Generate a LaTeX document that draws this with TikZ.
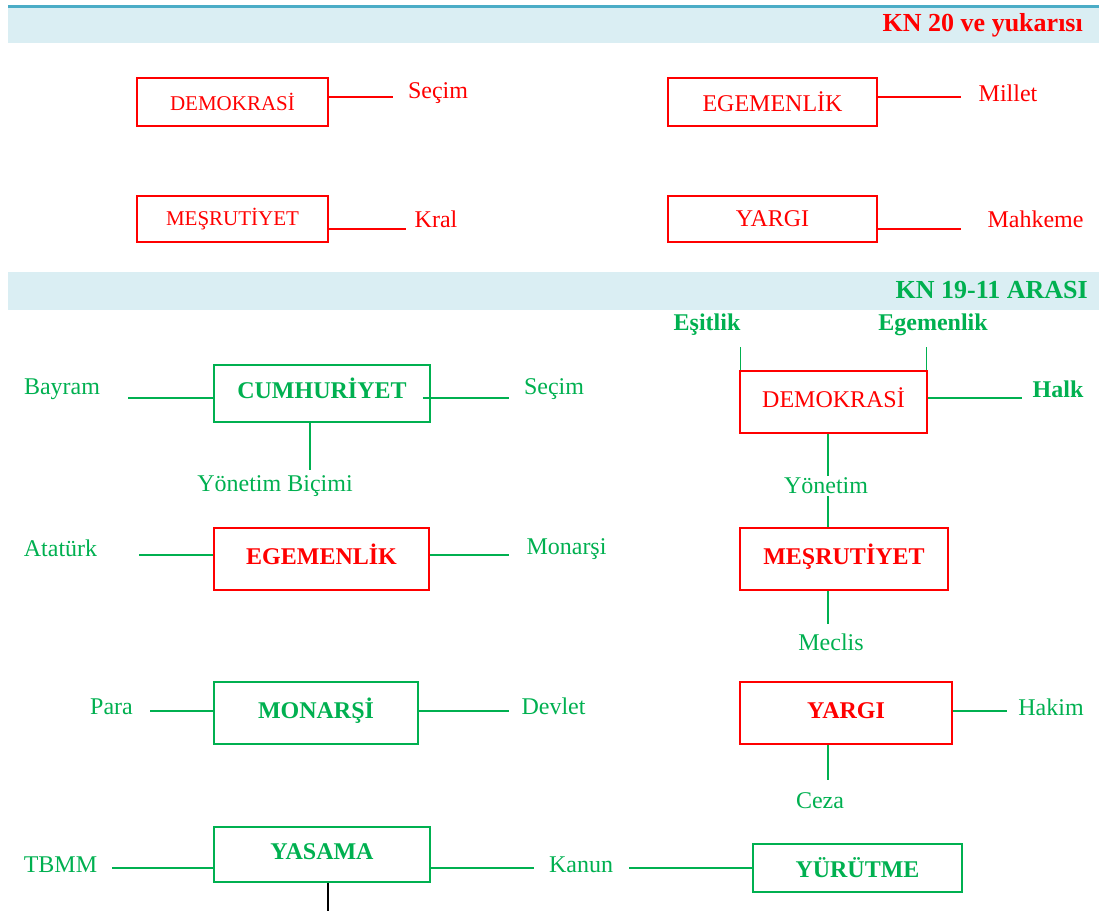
\documentclass[tikz,border=0pt]{standalone}
\usepackage{fontspec}
\setmainfont{Liberation Serif}
\usetikzlibrary{%
    calc,
    positioning
}
\definecolor{kred}{HTML}{FF0000}
\definecolor{kgreen}{HTML}{00B050}
\definecolor{bandblue}{HTML}{DAEEF3}
\definecolor{bandline}{HTML}{4BACC6}
\tikzset{
    box/.style={draw, line width=1.5pt, inner sep=0pt},
    redbox/.style={box, draw=kred, text=kred},
    greenbox/.style={box, draw=kgreen, text=kgreen},
    lift/.style={text height=16pt, text depth=6pt},
    word/.style={inner sep=0pt, font=\fontsize{24}{28}\selectfont},
    smallword/.style={inner sep=0pt, font=\fontsize{21}{25}\selectfont},
    boldword/.style={inner sep=0pt, font=\bfseries\fontsize{24}{28}\selectfont},
    headword/.style={inner sep=0pt, font=\bfseries\fontsize{26}{30}\selectfont},
    redlink/.style={line width=1.3pt, draw=kred},
    link/.style={line width=1.3pt, draw=kgreen}
}

\begin{document}
\begin{tikzpicture}[x=1pt, y=-1pt]
    \useasboundingbox (0,0) rectangle (1099,911);

    % bands
    \fill[bandblue] (8,7) rectangle (1099,43);
    \fill[bandline] (8,5) rectangle (1099,7.5);
    \fill[bandblue] (8,272) rectangle (1099,310);
    \node[headword, text=kred, anchor=east] (head1) at (1083,25) {KN 20 ve yukarısı};
    \node[headword, text=kgreen, anchor=east] (head2) at (1088,290) {KN 19-11 ARASI};

    % KN 20 ve yukarisi
    \node[redbox, smallword, minimum width=191pt, minimum height=48pt] (demA) at (232.5,102) {DEMOKRASİ};
    \node[redbox, word, minimum width=209pt, minimum height=48pt] (egeA) at (772.5,102) {EGEMENLİK};
    \node[redbox, smallword, minimum width=191pt, minimum height=46pt] (mesA) at (232.5,219) {MEŞRUTİYET};
    \node[redbox, word, minimum width=209pt, minimum height=46pt] (yarA) at (772.5,219) {YARGI};

    \node[word, text=kred] (secimA) at (438,93) {Seçim};
    \node[word, text=kred] (millet) at (1008,93) {Millet};
    \node[word, text=kred] (kral) at (436,219) {Kral};
    \node[word, text=kred] (mahkeme) at (1035.5,219) {Mahkeme};

    \draw[redlink] ([yshift=5pt]demA.east) -- ([yshift=5pt,xshift=-15pt]demA.east -| secimA.west);
    \draw[redlink] ([yshift=5pt]egeA.east) -- ([yshift=5pt,xshift=-17pt]egeA.east -| millet.west);
    \draw[redlink] ([yshift=-10pt]mesA.east) -- ([yshift=-10pt,xshift=-8pt]mesA.east -| kral.west);
    \draw[redlink] ([yshift=-10pt]yarA.east) -- ([yshift=-10pt,xshift=-26pt]yarA.east -| mahkeme.west);

    % KN 19-11 arasi, left column
    \node[greenbox, boldword, lift, minimum width=216pt, minimum height=57pt] (cum) at (322,393.5) {CUMHURİYET};
    \node[redbox, boldword, lift, minimum width=215pt, minimum height=62pt] (egeB) at (321.5,559) {EGEMENLİK};
    \node[greenbox, boldword, lift, minimum width=204pt, minimum height=62pt] (mon) at (316,713) {MONARŞİ};
    \node[greenbox, boldword, lift, minimum width=216pt, minimum height=55pt] (yas) at (322,854.5) {YASAMA};
    \node[greenbox, boldword, minimum width=209pt, minimum height=48pt] (yur) at (857.5,868) {YÜRÜTME};

    \node[word, text=kgreen] (bayram) at (62,389) {Bayram};
    \node[word, text=kgreen] (secimB) at (554,389) {Seçim};
    \node[word, text=kgreen] (bicim) at (275,486) {Yönetim Biçimi};
    \node[word, text=kgreen] (ataturk) at (60.5,548) {Atatürk};
    \node[word, text=kgreen] (monarsi) at (566.5,549) {Monarşi};
    \node[word, text=kgreen] (para) at (111.5,707) {Para};
    \node[word, text=kgreen] (devlet) at (553.5,706) {Devlet};
    \node[word, text=kgreen] (tbmm) at (60.5,865) {TBMM};
    \node[word, text=kgreen] (kanun) at (581,865) {Kanun};
    \coordinate (yasEnd) at (328,911);

    \draw[link] ([yshift=-4.5pt]cum.west) -- ([yshift=-4.5pt,xshift=28pt]cum.west -| bayram.east);
    \draw[link] ([yshift=-4.5pt,xshift=-8pt]cum.east) -- ([yshift=-4.5pt,xshift=-15pt]cum.east -| secimB.west);
    \draw[link] ([xshift=-12pt]cum.south) -- ([xshift=-12pt,yshift=5pt]cum.south |- bicim.north);
    \draw[link] ([yshift=4pt]egeB.west) -- ([yshift=4pt,xshift=42pt]egeB.west -| ataturk.east);
    \draw[link] ([yshift=4pt]egeB.east) -- ([yshift=4pt,xshift=-17pt]egeB.east -| monarsi.west);
    \draw[link] ([yshift=2pt]mon.west) -- ([yshift=2pt,xshift=17pt]mon.west -| para.east);
    \draw[link] ([yshift=2pt]mon.east) -- ([yshift=2pt,xshift=-12pt]mon.east -| devlet.west);
    \draw[link] ([yshift=-13.5pt]yas.west) -- ([yshift=-13.5pt,xshift=15pt]yas.west -| tbmm.east);
    \draw[link] ([yshift=-13.5pt]yas.east) -- ([yshift=-13.5pt,xshift=-15pt]yas.east -| kanun.west);
    \draw[link] (yur.west) -- ([xshift=16pt]yur.west -| kanun.east);
    \draw[line width=1.3pt] ([xshift=6pt]yas.south) -- (yasEnd);

    % KN 19-11 arasi, right column
    \node[redbox, word, lift, minimum width=187pt, minimum height=62pt] (demB) at (833.5,402) {DEMOKRASİ};
    \node[redbox, boldword, lift, minimum width=208pt, minimum height=62pt] (mesB) at (844,559) {MEŞRUTİYET};
    \node[redbox, boldword, lift, minimum width=212pt, minimum height=62pt] (yarB) at (846,713) {YARGI};

    \node[boldword, text=kgreen] (esitlik) at (707,325) {Eşitlik};
    \node[boldword, text=kgreen] (egemenlik) at (933,325) {Egemenlik};
    \node[boldword, text=kgreen] (halk) at (1058,389) {Halk};
    \node[word, text=kgreen] (yonetim) at (826,486) {Yönetim};
    \node[word, text=kgreen] (meclis) at (831,642) {Meclis};
    \node[word, text=kgreen] (hakim) at (1051,707) {Hakim};
    \node[word, text=kgreen] (ceza) at (820,801) {Ceza};

    \draw[link, line width=1.8pt] ([xshift=1.25pt]demB.north west) -- ([xshift=1.25pt,yshift=-11pt]demB.north west |- esitlik.south);
    \draw[link, line width=1.8pt] ([xshift=-1.25pt]demB.north east) -- ([xshift=-1.25pt,yshift=-11pt]demB.north east |- egemenlik.south);
    \draw[link] ([yshift=4pt]demB.east) -- ([yshift=4pt,xshift=-10pt]demB.east -| halk.west);
    \draw[link] ([xshift=-5.5pt]demB.south) -- ([xshift=-5.5pt,yshift=2pt]demB.south |- yonetim.north);
    \draw[link] ([xshift=-16pt]mesB.north) -- ([xshift=-16pt,yshift=-2pt]mesB.north |- yonetim.south);
    \draw[link] ([xshift=-16pt]mesB.south) -- ([xshift=-16pt,yshift=9pt]mesB.south |- meclis.north);
    \draw[link] ([yshift=2pt]yarB.east) -- ([yshift=2pt,xshift=-11pt]yarB.east -| hakim.west);
    \draw[link] ([xshift=-18pt]yarB.south) -- ([xshift=-18pt,yshift=13pt]yarB.south |- ceza.north);
\end{tikzpicture}
\end{document}
